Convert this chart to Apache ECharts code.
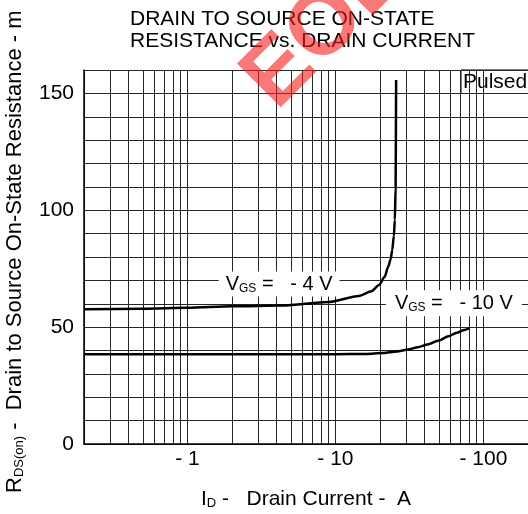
<!DOCTYPE html>
<html>
<head>
<meta charset="utf-8">
<script src="https://cdn.jsdelivr.net/npm/echarts@6/dist/echarts.min.js"></script>
<style>
  html, body { margin: 0; padding: 0; background: #fff; }
  #chart { width: 528px; height: 514px; }
</style>
</head>
<body>
<div id="chart"></div>
<script>
const FONT = '"Liberation Sans", Arial, sans-serif';

// drain current magnitudes in A (axis labels carry the minus sign)
const vgs4Current = [0.2, 0.5, 1, 2, 4.4, 9, 14.4, 17.5, 19.7, 21.5, 22.7, 23.6, 24.2, 24.8, 25.2, 25.5, 25.7];
const vgs4Resistance = [57.6, 57.9, 58.3, 58.9, 59.2, 60.7, 63.3, 65.3, 68, 71.5, 75.8, 79, 83, 89, 95.8, 110, 155.7];

const vgs10Current = [0.2, 1, 5, 10, 16, 21, 26, 31, 36, 42, 50, 58, 66, 74, 80];
const vgs10Resistance = [38.4, 38.4, 38.4, 38.4, 38.5, 38.9, 39.6, 40.4, 41.4, 42.6, 44.3, 46.1, 47.6, 48.8, 49.5];

const xMajorTicks = [1, 10, 100];
const xMinorLines = [0.3, 0.4, 0.5, 0.6, 0.7, 0.8, 0.9, 2, 3, 4, 5, 6, 7, 8, 9, 20, 30, 40, 50, 60, 70, 80, 90];
const yLabelStep = 50;

const curveLabels = [
  { text: '{v|V}{s|GS}{v| =   - 4 V}', coord: [4.16, 68.4], padding: [3, 7, 2, 7] },
  { text: '{v|V}{s|GS}{v| =   - 10 V}', coord: [63.1, 60.2], padding: [3, 9, 3, 9] }
];

const GRID_COLOR = '#262626';

// big and small text sharing one baseline
const baseRich = {
  b: { fontSize: 21, fontFamily: FONT, color: '#000', lineHeight: 21, verticalAlign: 'bottom' },
  s: { fontSize: 13, fontFamily: FONT, color: '#000', lineHeight: 15, verticalAlign: 'bottom' }
};

const labelRich = {
  v: { fontSize: 20, fontFamily: FONT, color: '#000', lineHeight: 20, verticalAlign: 'bottom' },
  s: { fontSize: 12, fontFamily: FONT, color: '#000', lineHeight: 14, verticalAlign: 'bottom' }
};

function curveMark(lbl) {
  return {
    silent: true,
    symbol: 'rect',
    symbolSize: 1,
    itemStyle: { color: 'rgba(0,0,0,0)' },
    data: [{
      coord: lbl.coord,
      label: {
        show: true,
        position: 'inside',
        formatter: lbl.text,
        backgroundColor: '#fff',
        padding: lbl.padding,
        rich: labelRich
      }
    }]
  };
}

const chart = echarts.init(document.getElementById('chart'));

chart.setOption({
  animation: false,
  backgroundColor: '#fff',
  title: {
    text: 'DRAIN TO SOURCE ON-STATE\nRESISTANCE vs. DRAIN CURRENT',
    left: 130,
    top: 8,
    padding: 0,
    textStyle: { fontSize: 21, fontWeight: 'normal', lineHeight: 22, color: '#000', fontFamily: FONT }
  },
  grid: { left: 84, top: 70, right: 0, bottom: 70, containLabel: false, outerBoundsMode: 'none' },
  xAxis: {
    type: 'log',
    logBase: 10,
    min: 0.2,
    max: 200,
    axisLine: { show: true, lineStyle: { color: '#000', width: 1.5 } },
    axisTick: { show: false },
    axisLabel: {
      margin: 5,
      fontSize: 21,
      fontFamily: FONT,
      color: '#000',
      showMinLabel: false,
      showMaxLabel: false,
      formatter: v => xMajorTicks.some(t => Math.abs(t - v) / t < 1e-6) ? '- ' + Math.round(v) : ''
    },
    splitLine: { show: true, lineStyle: { color: GRID_COLOR, width: 1 } },
    name: '{b|I}{s|D}{b| -   Drain Current -  A}',
    nameLocation: 'middle',
    nameGap: 45,
    nameTextStyle: { rich: baseRich }
  },
  yAxis: {
    type: 'value',
    min: 0,
    max: 160,
    interval: 10,
    axisLine: { show: true, lineStyle: { color: '#000', width: 1.5 } },
    axisTick: { show: false },
    axisLabel: {
      margin: 10,
      fontSize: 21,
      fontFamily: FONT,
      color: '#000',
      formatter: v => (v % yLabelStep === 0 && v < 160 ? String(v) : '')
    },
    splitLine: { show: true, lineStyle: { color: GRID_COLOR, width: 1 } }
  },
  series: [
    {
      // minor log grid lines
      type: 'line',
      data: [],
      z: 1,
      markLine: {
        silent: true,
        symbol: ['none', 'none'],
        label: { show: false },
        emphasis: { disabled: true },
        lineStyle: { color: GRID_COLOR, width: 1, type: 'solid' },
        data: xMinorLines.map(v => ({ xAxis: v }))
      }
    },
    {
      name: 'VGS = -4 V',
      type: 'line',
      data: vgs4Current.map((c, i) => [c, vgs4Resistance[i]]),
      showSymbol: false,
      smooth: 0.25,
      smoothMonotone: 'x',
      lineStyle: { color: '#000', width: 2.5 },
      z: 5,
      markPoint: curveMark(curveLabels[0])
    },
    {
      name: 'VGS = -10 V',
      type: 'line',
      data: vgs10Current.map((c, i) => [c, vgs10Resistance[i]]),
      showSymbol: false,
      smooth: 0.25,
      smoothMonotone: 'x',
      lineStyle: { color: '#000', width: 2.5 },
      z: 5,
      markPoint: curveMark(curveLabels[1])
    }
  ],
  graphic: [
    {
      type: 'text',
      x: 15,
      y: 493,
      rotation: Math.PI / 2,
      style: {
        text: '{b|R}{s|DS(on)}{b| -  Drain to Source On-State Resistance - m}',
        align: 'left',
        verticalAlign: 'middle',
        rich: {
          b: { fontSize: 22, fontFamily: FONT, fill: '#000', lineHeight: 22, verticalAlign: 'bottom' },
          s: { fontSize: 13, fontFamily: FONT, fill: '#000', lineHeight: 15, verticalAlign: 'bottom' }
        }
      }
    },
    {
      type: 'group',
      z: 100,
      children: [
        { type: 'rect', shape: { x: 461, y: 70, width: 68, height: 23.5 }, style: { fill: '#fff', stroke: '#000', lineWidth: 1 } },
        { type: 'text', x: 463, y: 82, style: { text: 'Pulsed', fontSize: 21, fontFamily: FONT, fill: '#000', verticalAlign: 'middle' } }
      ]
    },
    {
      // EOL watermark
      type: 'text',
      z: 200,
      x: 259,
      y: 94,
      rotation: Math.PI / 4,
      style: {
        text: 'EOL',
        fontSize: 90,
        fontWeight: 'bold',
        fontFamily: FONT,
        fill: 'rgba(245, 30, 30, 0.6)',
        align: 'left',
        verticalAlign: 'middle'
      }
    }
  ]
});
</script>
</body>
</html>
